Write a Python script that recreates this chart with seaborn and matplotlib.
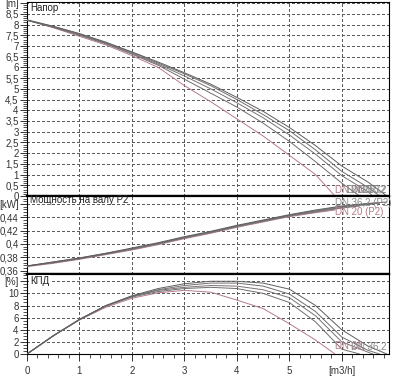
import numpy as np
import pandas as pd
import seaborn as sns
import matplotlib.pyplot as plt
from matplotlib.ticker import MultipleLocator

sns.set_style("white")
plt.rcParams['font.family'] = ['Liberation Sans', 'DejaVu Sans']

# pump curves (flow in m3/h)
names = ['DN 20', 'DN 25', 'DN 28', 'DN 32', 'DN 36,2']
q_dn20 = [0, 0.5, 1, 1.5, 2, 2.5, 3, 3.5, 4, 4.5, 5, 5.5, 5.87]
q_dn25 = [0, 0.5, 1, 1.5, 2, 2.5, 3, 3.5, 4, 4.5, 5, 5.5, 6, 6.34]
q_dn28 = [0, 0.5, 1, 1.5, 2, 2.5, 3, 3.5, 4, 4.5, 5, 5.5, 6, 6.5, 6.59]
q_dn32 = [0, 0.5, 1, 1.5, 2, 2.5, 3, 3.5, 4, 4.5, 5, 5.5, 6, 6.5, 6.72]
q_dn36 = [0, 0.5, 1, 1.5, 2, 2.5, 3, 3.5, 4, 4.5, 5, 5.5, 6, 6.5, 6.86]

head_dn20 = [8.2, 7.85, 7.45, 7.05, 6.55, 6.0, 5.15, 4.4, 3.6, 2.8, 1.9, 1.0, 0]
head_dn25 = [8.2, 7.87, 7.5, 7.1, 6.62, 6.1, 5.45, 4.8, 4.15, 3.4, 2.55, 1.6, 0.6, 0]
head_dn28 = [8.2, 7.88, 7.52, 7.12, 6.65, 6.15, 5.6, 5.0, 4.35, 3.65, 2.85, 1.95, 0.95, 0.2, 0]
head_dn32 = [8.2, 7.9, 7.55, 7.15, 6.7, 6.2, 5.7, 5.15, 4.5, 3.8, 3.05, 2.15, 1.15, 0.4, 0]
head_dn36 = [8.22, 7.92, 7.58, 7.18, 6.72, 6.25, 5.75, 5.22, 4.6, 3.95, 3.2, 2.35, 1.4, 0.65, 0]

p2_dn20 = [0.366, 0.371, 0.377, 0.384, 0.391, 0.399, 0.408, 0.416, 0.425, 0.433, 0.441, 0.447, 0.451]
p2_dn25 = [0.367, 0.372, 0.378, 0.385, 0.392, 0.400, 0.409, 0.417, 0.426, 0.434, 0.442, 0.448, 0.454, 0.457]
p2_dn28 = [0.367, 0.372, 0.378, 0.385, 0.393, 0.401, 0.410, 0.418, 0.427, 0.435, 0.443, 0.449, 0.455, 0.459, 0.460]
p2_dn32 = [0.367, 0.373, 0.379, 0.386, 0.393, 0.401, 0.410, 0.418, 0.427, 0.435, 0.443, 0.450, 0.456, 0.460, 0.461]
p2_dn36 = [0.367, 0.373, 0.379, 0.386, 0.394, 0.402, 0.411, 0.419, 0.428, 0.436, 0.444, 0.451, 0.457, 0.461, 0.463]

eff_dn20 = [0, 3.0, 5.6, 7.7, 9.2, 10.1, 10.5, 10.2, 8.9, 7.5, 5.0, 2.3, 0]
eff_dn25 = [0, 3.0, 5.7, 7.9, 9.4, 10.3, 10.8, 11.0, 10.8, 10.0, 8.5, 5.3, 0.8, 0]
eff_dn28 = [0, 3.0, 5.7, 7.9, 9.5, 10.5, 11.0, 11.3, 11.2, 10.6, 9.3, 6.3, 2.0, 0.3, 0]
eff_dn32 = [0, 3.0, 5.7, 7.95, 9.55, 10.6, 11.3, 11.7, 11.7, 11.2, 9.9, 7.0, 2.8, 0.6, 0]
eff_dn36 = [0, 3.0, 5.7, 8.0, 9.6, 10.8, 11.6, 12.0, 12.0, 11.7, 10.7, 8.0, 4.0, 1.3, 0]

head_ticks = [0, 0.5, 1, 1.5, 2, 2.5, 3, 3.5, 4, 4.5, 5, 5.5, 6, 6.5, 7, 7.5, 8, 8.5, 9]
p2_ticks = [0.36, 0.38, 0.40, 0.42, 0.44, 0.46]
eff_ticks = [0, 2, 4, 6, 8, 10, 12]
x_ticks = [0, 1, 2, 3, 4, 5, 6]

flows = [q_dn20, q_dn25, q_dn28, q_dn32, q_dn36]
heads = [head_dn20, head_dn25, head_dn28, head_dn32, head_dn36]
powers = [p2_dn20, p2_dn25, p2_dn28, p2_dn32, p2_dn36]
effs = [eff_dn20, eff_dn25, eff_dn28, eff_dn32, eff_dn36]

rows = []
for name, q, h, p, e in zip(names, flows, heads, powers, effs):
    for i in range(len(q)):
        rows.append({'name': name, 'q': q[i], 'head': h[i], 'p2': p[i], 'eff': e[i]})
df = pd.DataFrame(rows)

pink = '#b47c88'
gray = '#6e6e6e'
palette = {'DN 20': pink, 'DN 25': gray, 'DN 28': '#7a7076', 'DN 32': gray, 'DN 36,2': '#5e5e5e'}
grid_kw = dict(color='#5c5c5c', linestyle=(0, (2.5, 2.5)), linewidth=0.75, zorder=1,
               antialiased=False, snap=True)

fig = plt.figure(figsize=(4, 3.76), dpi=100)
L, W = 0.0675, 0.905
ax1 = fig.add_axes([L, 0.4787, W, 0.516])
ax2 = fig.add_axes([L, 0.2713, W, 0.2074], sharex=ax1)
ax3 = fig.add_axes([L, 0.0585, W, 0.2128], sharex=ax1)

for ax, col, yt in [(ax1, 'head', head_ticks), (ax2, 'p2', p2_ticks), (ax3, 'eff', eff_ticks)]:
    # dashed grid
    for t in x_ticks[1:]:
        ax.axvline(t, **grid_kw)
    for t in yt[1:]:
        ax.axhline(t, **grid_kw)
    sns.lineplot(data=df, x='q', y=col, hue='name', palette=palette, sort=False,
                 linewidth=0.7, legend=False, ax=ax, estimator=None, zorder=3)
    ax.set_xlabel('')
    ax.set_ylabel('')
    for s in ax.spines.values():
        s.set_color('black')
        s.set_linewidth(0.8)
    ax.tick_params(axis='y', which='major', direction='out', length=5, width=0.7,
                   labelsize=7, pad=1, left=True, colors='#333333')
    ax.tick_params(axis='y', which='minor', direction='out', length=3, width=0.6,
                   left=True, colors='#333333')

ax1.set_xlim(0, 6.9)

# head panel
ax1.set_ylim(0, 9.05)
ax1.set_yticks(head_ticks)
ax1.set_yticklabels([f'{t:g}'.replace('.', ',') for t in head_ticks[:-1]] + ['[m]'])
ax1.yaxis.set_minor_locator(MultipleLocator(0.1))
ax1.tick_params(axis='x', which='both', bottom=False, labelbottom=False)
ax1.text(0.06, 8.75, 'Напор', fontsize=7, va='center', color='#222222',
         bbox=dict(facecolor='white', edgecolor='none', pad=0.5))
ax1.text(q_dn20[-1], 0.3, 'DN 20', fontsize=7, color=pink, va='center')
ax1.text(6.1, 0.3, 'DN 25', fontsize=7, color='#888888', va='center')
ax1.text(6.3, 0.3, 'DN 32', fontsize=7, color='#888888', va='center')
ax1.text(6.86, 0.3, 'DN 36,2', fontsize=7, color='#888888', va='center', ha='right')

# power panel
ax2.set_ylim(0.355, 0.472)
ax2.set_yticks(p2_ticks)
ax2.set_yticklabels([f'{t:g}'.replace('.', ',') for t in p2_ticks[:-1]] + ['[kW]'])
ax2.yaxis.set_minor_locator(MultipleLocator(0.004))
ax2.tick_params(axis='x', which='both', bottom=False, labelbottom=False)
ax2.text(0.06, 0.4655, 'Мощность на валу P2', fontsize=7, va='center', color='#222222')
ax2.text(q_dn20[-1], 0.4615, 'DN 36,2 (P2)', fontsize=7, color='#888888', va='center')
ax2.text(q_dn20[-1], 0.4475, 'DN 20 (P2)', fontsize=7, color=pink, va='center')

# efficiency panel
ax3.set_ylim(0, 13.2)
ax3.set_yticks(eff_ticks)
ax3.set_yticklabels([str(t) for t in eff_ticks[:-1]] + ['[%]'])
ax3.yaxis.set_minor_locator(MultipleLocator(0.5))
ax3.text(0.06, 12.1, 'КПД', fontsize=7, va='center', color='#222222',
         bbox=dict(facecolor='white', edgecolor='none', pad=0.5))
ax3.text(q_dn20[-1], 1.3, 'DN 20', fontsize=7, color=pink, va='center')
ax3.text(6.86, 1.3, 'DN 36,2', fontsize=7, color='#888888', va='center', ha='right')

ax3.set_xticks(x_ticks)
ax3.set_xticklabels([str(t) for t in x_ticks[:-1]] + ['[m3/h]'])
ax3.xaxis.set_minor_locator(MultipleLocator(0.2))
ax3.tick_params(axis='x', which='major', direction='out', length=5, width=0.7,
                labelsize=7, bottom=True, colors='#333333')
ax3.tick_params(axis='x', which='minor', direction='out', length=3, width=0.6,
                bottom=True, colors='#333333')

# thick separators between panels
ax1.spines['bottom'].set_linewidth(1.6)
ax2.spines['top'].set_linewidth(1.6)
ax2.spines['bottom'].set_linewidth(1.6)
ax3.spines['top'].set_linewidth(1.6)

fig.savefig('out.png', dpi=100)
